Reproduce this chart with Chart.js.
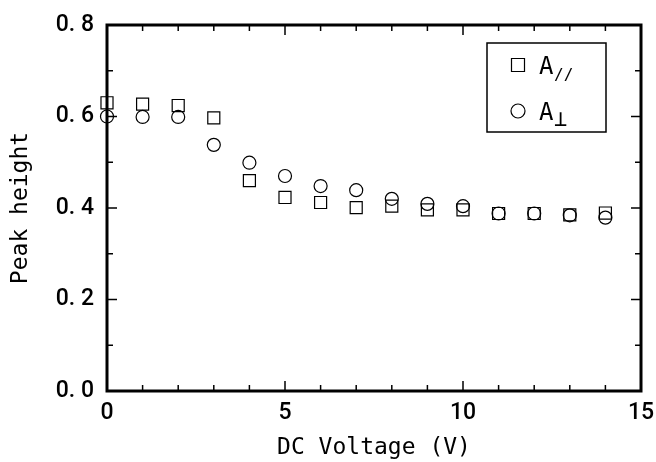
<!DOCTYPE html>
<html>
<head>
<meta charset="utf-8">
<script src="https://cdn.jsdelivr.net/npm/chart.js@4.4.1/dist/chart.umd.min.js"></script>
<style>
html,body{margin:0;padding:0;background:#fff;}
#wrap{width:656px;height:462px;}
</style>
</head>
<body>
<div id="wrap"><canvas id="c" width="656" height="462"></canvas></div>
<script>
// ---- data ----
const voltages = [0,1,2,3,4,5,6,7,8,9,10,11,12,13,14];
const aPara = [0.630,0.627,0.624,0.597,0.460,0.423,0.412,0.401,0.404,0.396,0.396,0.388,0.388,0.385,0.389];
const aPerp = [0.600,0.599,0.599,0.538,0.499,0.470,0.448,0.439,0.420,0.409,0.404,0.388,0.388,0.384,0.379];
const seriesNames = ['A//','A⊥'];
const legendMain = ['A','A'];
const legendSub = ['//','⊥'];
const legendSubSize = [16, 22];
const xTickLabels = {0:'0',5:'5',10:'10',15:'15'};
const yTickLabels = ['0. 0','0. 2','0. 4','0. 6','0. 8'];
const xTitle = 'DC Voltage (V)';
const yTitle = 'Peak height';

const MONO = '"DejaVu Sans Mono", "Liberation Mono", monospace';
const TICKF = 'Roboto, "DejaVu Sans", sans-serif';

const framePlugin = {
  id: 'frame',
  afterDraw(chart) {
    const ctx = chart.ctx, a = chart.chartArea;
    const xs = chart.scales.x, ys = chart.scales.y;
    ctx.save();
    ctx.strokeStyle = '#000';
    ctx.lineWidth = 1.5;
    xs.ticks.forEach(t => {
      const px = xs.getPixelForValue(t.value);
      const major = Math.abs(t.value % 5) < 1e-6;
      const len = major ? 10 : 6;
      ctx.beginPath();
      ctx.moveTo(px, a.bottom); ctx.lineTo(px, a.bottom - len);
      ctx.moveTo(px, a.top); ctx.lineTo(px, a.top + len);
      ctx.stroke();
    });
    ys.ticks.forEach(t => {
      const py = ys.getPixelForValue(t.value);
      const major = Math.abs(Math.round(t.value * 10) % 2) === 0;
      const len = major ? 10 : 6;
      ctx.beginPath();
      ctx.moveTo(a.left, py); ctx.lineTo(a.left + len, py);
      ctx.moveTo(a.right, py); ctx.lineTo(a.right - len, py);
      ctx.stroke();
    });
    ctx.lineWidth = 3;
    ctx.strokeRect(a.left, a.top, a.right - a.left, a.bottom - a.top);

    // legend box
    const bx = a.right - 154, by = a.top + 18, bw = 119, bh = 89;
    ctx.lineWidth = 1.5;
    ctx.fillStyle = '#fff';
    ctx.fillRect(bx, by, bw, bh);
    ctx.strokeRect(bx, by, bw, bh);
    ctx.lineWidth = 1.2;
    const rows = [by + 22, by + 68];
    chart.data.datasets.forEach((ds, i) => {
      const cy = rows[i], cx = bx + 31;
      ctx.beginPath();
      if (ds.pointStyle === 'rect') {
        ctx.rect(cx - 6.5, cy - 6.5, 13, 13);
      } else {
        ctx.arc(cx, cy, 7, 0, Math.PI * 2);
      }
      ctx.stroke();
      ctx.fillStyle = '#000';
      ctx.textBaseline = 'alphabetic';
      ctx.textAlign = 'left';
      ctx.font = '24px ' + MONO;
      ctx.fillText(legendMain[i], bx + 52, cy + 9);
      ctx.font = legendSubSize[i] + 'px ' + MONO;
      ctx.fillText(legendSub[i], bx + 67, cy + 15);
    });
    ctx.restore();
  }
};

new Chart(document.getElementById('c'), {
  type: 'scatter',
  data: {
    datasets: [
      {
        label: seriesNames[0],
        data: voltages.map((v, i) => ({x: v, y: aPara[i]})),
        pointStyle: 'rect',
        pointRadius: 8.5,
        pointHoverRadius: 8.5,
        borderColor: '#000',
        backgroundColor: 'rgba(0,0,0,0)',
        pointBorderWidth: 1.2,
        clip: false
      },
      {
        label: seriesNames[1],
        data: voltages.map((v, i) => ({x: v, y: aPerp[i]})),
        pointStyle: 'circle',
        pointRadius: 6.5,
        pointHoverRadius: 6.5,
        borderColor: '#000',
        backgroundColor: 'rgba(0,0,0,0)',
        pointBorderWidth: 1.2,
        clip: false
      }
    ]
  },
  options: {
    responsive: false,
    animation: false,
    events: [],
    layout: { padding: { top: 25, right: 15, left: 0, bottom: 0 } },
    plugins: { legend: { display: false }, tooltip: { enabled: false } },
    scales: {
      x: {
        type: 'linear', min: 0, max: 15,
        grid: { display: false, drawTicks: false },
        border: { display: false },
        ticks: {
          stepSize: 1, autoSkip: false, maxRotation: 0,
          padding: 8, color: '#000',
          font: { family: TICKF, size: 23, weight: '500' },
          callback: v => (xTickLabels[v] !== undefined ? xTickLabels[v] : '')
        },
        title: {
          display: true, text: xTitle, color: '#000',
          font: { family: MONO, size: 23 },
          padding: { top: 0, bottom: 0 }
        },
        afterFit(s) { s.height = 71; s.paddingRight = 0; s.paddingLeft = 0; }
      },
      y: {
        type: 'linear', min: 0, max: 0.8,
        grid: { display: false, drawTicks: false },
        border: { display: false },
        ticks: {
          stepSize: 0.1, autoSkip: false,
          padding: 13, color: '#000',
          font: { family: TICKF, size: 23, weight: '500' },
          callback: (v) => {
            const k = Math.round(v * 10);
            return k % 2 === 0 ? yTickLabels[k / 2] : '';
          }
        },
        title: {
          display: true, text: yTitle, color: '#000',
          font: { family: MONO, size: 23 },
          padding: { top: 7, bottom: 0 }
        },
        afterFit(s) { s.width = 107; s.paddingTop = 0; s.paddingBottom = 0; }
      }
    }
  },
  plugins: [framePlugin]
});
</script>
</body>
</html>
